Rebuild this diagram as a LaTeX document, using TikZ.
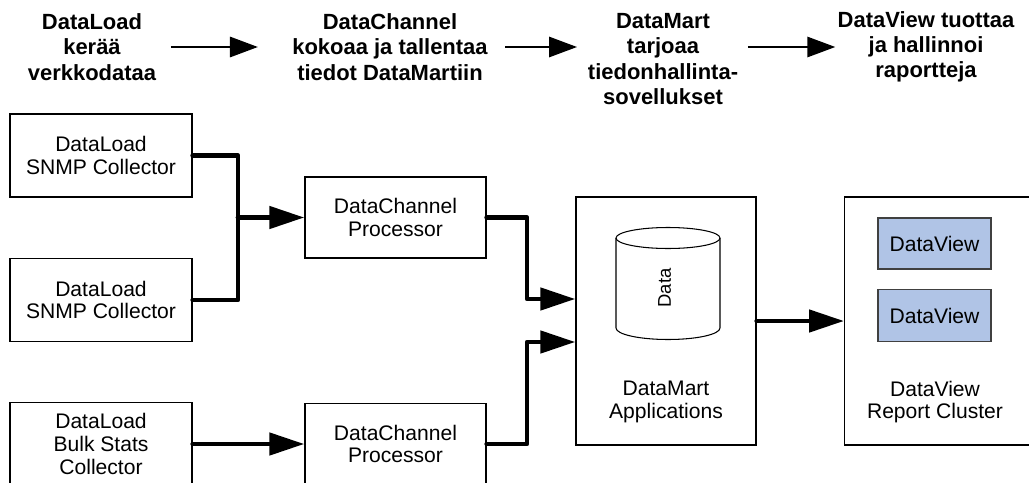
\documentclass[tikz,border=0pt]{standalone}
\usepackage{fontspec}
\setmainfont{Liberation Sans}
\usepackage{xcolor}
\usetikzlibrary{arrows.meta}
\definecolor{viewblue}{RGB}{176,196,230}

\begin{document}
\begin{tikzpicture}[>=Latex,
    title/.style={align=center,inner sep=0pt,font=\bfseries\fontsize{12.5}{14.4}\selectfont},
    box/.style={draw=black,line width=0.8pt,align=center,minimum width=3.64cm,minimum height=1.66cm,font=\fontsize{12}{13}\selectfont},
    txt/.style={align=center,font=\fontsize{12}{13}\selectfont},
    flow/.style={line width=2.7pt,line cap=round,line join=round,-{Triangle[length=0.7cm,width=0.44cm]}},
    wire/.style={line width=2.7pt,line cap=round,line join=round},
    stage/.style={line width=1.7pt,-{Triangle[length=0.56cm,width=0.4cm]}}]
  \useasboundingbox (0,0) rectangle (20.58,-9.64);

  % phases
  \node[title] (t1) at (1.84,-0.94) {DataLoad\\kerää\\verkkodataa};
  \node[title] (t2) at (7.80,-0.94) {DataChannel\\kokoaa ja tallentaa\\tiedot DataMartiin};
  \node[title] (t3) at (13.26,-1.18) {DataMart\\tarjoaa\\tiedonhallinta-\\sovellukset};
  \node[title] (t4) at (18.52,-0.94) {DataView tuottaa\\ja hallinnoi\\raportteja};
  \draw[stage,shorten <=0.29cm,shorten >=0.68cm] (t1.east) -- (t2.west);
  \draw[stage,shorten <=0.34cm,shorten >=0.21cm] (t2.east) -- (t3.west |- t2.east);
  \draw[stage,shorten <=0.19cm,shorten >=0.04cm] (t3.east |- t4.west) -- (t4.west);

  % collectors and processors
  \node[box] (dl1) at (2.02,-3.11) {DataLoad\\SNMP Collector};
  \node[box] (dl2) at (2.02,-6.00) {DataLoad\\SNMP Collector};
  \node[box] (dl3) at (2.02,-8.88) {DataLoad\\Bulk Stats\\Collector};
  \node[box,minimum width=3.62cm,minimum height=1.62cm] (dc1) at (7.91,-4.35) {DataChannel\\Processor};
  \node[box,minimum width=3.62cm,minimum height=1.62cm] (dc2) at (7.91,-8.88) {DataChannel\\Processor};

  % datamart
  \node[box,minimum width=3.6cm,minimum height=4.96cm] (dm) at (13.32,-6.42) {};
  \draw[line width=0.6pt] (12.32,-4.76) -- (12.32,-6.56)
    arc[start angle=180,end angle=360,x radius=1.04cm,y radius=0.23cm] -- (14.40,-4.76);
  \draw[line width=0.6pt] (13.36,-4.76) ellipse [x radius=1.04cm,y radius=0.21cm];
  \node[rotate=90,font=\fontsize{10.5}{12}\selectfont] (db) at (13.29,-5.76) {Data};
  \node[txt] (dmtext) at (13.32,-8.04) {DataMart\\Applications};

  % report cluster
  \node[box,minimum width=4.4cm,minimum height=4.96cm,anchor=west] (dv) at (16.88,-6.42) {};
  \node[box,draw=black!75,fill=viewblue,minimum width=2.26cm,minimum height=1.02cm] (v1) at (18.69,-4.87) {DataView};
  \node[box,draw=black!75,fill=viewblue,minimum width=2.26cm,minimum height=1.04cm] (v2) at (18.69,-6.31) {DataView};
  \node[txt] (dvtext) at (18.70,-8.04) {DataView\\Report Cluster};

  % connectors
  \coordinate (j1) at (4.76,-4.35);
  \coordinate (k1) at (10.54,-5.98);
  \coordinate (k2) at (10.54,-6.84);
  \draw[wire] (dl1.east) -| (j1) |- (dl2.east);
  \draw[flow] (j1) -- (dc1.west);
  \draw[flow] (dl3.east) -- (dc2.west);
  \draw[flow] (dc1.east) -| (k1) -- (dm.west |- k1);
  \draw[flow] (dc2.east) -| (k2) -- (dm.west |- k2);
  \draw[flow] (dm.east) -- (dv.west);
\end{tikzpicture}
\end{document}
